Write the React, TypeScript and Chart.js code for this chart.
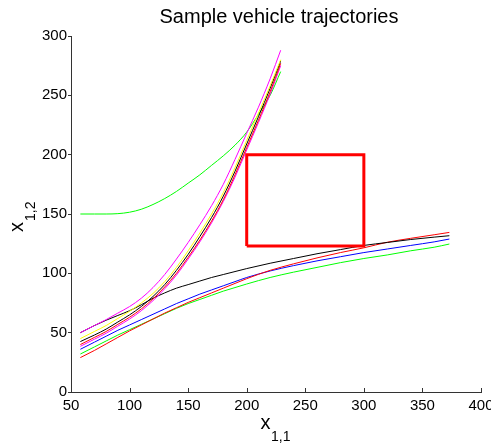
import { useEffect, useRef } from 'react';
import { Chart, registerables } from 'chart.js';

Chart.register(...registerables);

const TITLE = 'Sample vehicle trajectories';
const X_TICKS = [50, 100, 150, 200, 250, 300, 350, 400];
const Y_TICKS = [0, 50, 100, 150, 200, 250, 300];

const upperX = [58, 70, 80, 90, 100, 110, 120, 130, 140, 150, 160, 170, 180, 190, 200, 210, 220, 229];
const magentaUp1 = [50, 56, 61, 66.5, 72, 79, 88, 99, 112, 126, 141, 157, 175, 196, 218, 240, 264, 288];
const yellowUp = [45, 51, 56, 62, 68, 75, 83, 93, 105, 119, 134, 150, 168, 189, 212, 235, 258, 280];
const blackUp = [42.5, 48, 53, 59, 65, 72, 80.5, 90.5, 102.5, 116, 131, 147, 165, 186, 209, 232, 256, 279];
const redUp = [40, 46, 51, 57, 63, 70, 78.5, 88.5, 100, 113.5, 128, 144, 162, 183, 206, 229, 253, 277];
const magentaUp2 = [38.5, 44.5, 49.5, 55.5, 61.5, 68.5, 77, 87, 98.5, 112, 126.5, 142.5, 160.5, 181, 204, 227, 251, 275];
const greenUp = [150, 150, 150, 150.3, 151.5, 154, 158, 163, 169, 176, 183, 191, 199, 208, 219, 234, 250, 270];

const lowerX = [58, 70, 80, 90, 100, 110, 120, 130, 140, 150, 160, 170, 180, 190, 200, 220, 240, 260, 280, 300, 320, 340, 360, 373];
const blackLow = [50, 56, 60.5, 64.5, 68.5, 73.5, 79, 83.5, 87.5, 90.5, 93.5, 96.5, 99, 101.5, 104, 108.5, 112.5, 116.5, 120, 123.5, 126, 128.5, 130.5, 131.7];
const blueLow = [36, 42, 47, 52, 56.5, 61, 65.5, 70, 74.5, 78.5, 82.5, 86, 89.5, 93, 96.5, 102, 106.5, 110.5, 114, 117.5, 120.5, 123.5, 126.5, 128.9];
const greenLow = [32, 38, 43, 48, 52.5, 57, 61.5, 66, 70.5, 74.5, 78, 81.5, 85, 88, 91, 96.5, 101, 105, 109, 112.5, 115.5, 119, 122, 124.7];
const redLow = [29, 35, 40.5, 46, 51.5, 56.5, 61.5, 66.5, 71, 75.5, 79.5, 83.5, 87.5, 91.5, 95.5, 102.5, 108, 113, 117.5, 121.5, 126.2, 129.5, 132.5, 134.5];

const rectX = [200, 300, 300, 200, 200];
const rectY = [123, 123, 200, 200, 123];

const FONT = '"Liberation Sans", Arial, Helvetica, sans-serif';

function pts(xs: number[], ys: number[]) {
  return xs.map((x, i) => ({ x, y: ys[i] }));
}

function line(xs: number[], ys: number[], color: string, width = 1) {
  return {
    data: pts(xs, ys),
    borderColor: color,
    backgroundColor: color,
    borderWidth: width,
    pointRadius: 0,
    showLine: true,
    fill: false,
    cubicInterpolationMode: 'monotone' as const,
  };
}

const decorPlugin = {
  id: 'decor',
  afterDraw(chart: any) {
    const ctx = chart.ctx;
    const xs = chart.scales.x;
    const area = chart.chartArea;
    ctx.save();
    // inward x ticks
    ctx.strokeStyle = '#333';
    ctx.lineWidth = 1;
    ctx.beginPath();
    X_TICKS.forEach((v) => {
      const px = Math.round(xs.getPixelForValue(v)) + 0.5;
      ctx.moveTo(px, area.bottom);
      ctx.lineTo(px, area.bottom - 4);
    });
    ctx.stroke();
    ctx.fillStyle = '#000';
    // title
    ctx.font = `20px ${FONT}`;
    ctx.textAlign = 'center';
    ctx.textBaseline = 'alphabetic';
    ctx.fillText(TITLE, 279, 23);
    // x label
    ctx.textAlign = 'left';
    ctx.font = `20px ${FONT}`;
    ctx.fillText('x', 260.5, 429);
    ctx.font = `14px ${FONT}`;
    ctx.fillText('1,1', 271, 441);
    // y label
    ctx.translate(23, 232);
    ctx.rotate(-Math.PI / 2);
    ctx.font = `20px ${FONT}`;
    ctx.fillText('x', 0, 0);
    ctx.font = `14px ${FONT}`;
    ctx.fillText('1,2', 11, 12);
    ctx.restore();
  },
};

export default function App() {
  const ref = useRef<HTMLCanvasElement | null>(null);
  useEffect(() => {
    document.body.style.margin = '0';
    const canvas = ref.current!;
    const chart = new Chart(canvas, {
      type: 'scatter',
      data: {
        datasets: [
          line(rectX, rectY, '#ff0000', 3),
          line(upperX, magentaUp1, '#ff00ff'),
          line(upperX, yellowUp, '#ffff00'),
          line(upperX, blackUp, '#000000'),
          line(upperX, redUp, '#ff0000'),
          line(upperX, magentaUp2, '#ff00ff'),
          line(upperX, greenUp, '#00ff00'),
          line(lowerX, blackLow, '#000000'),
          line(lowerX, redLow, '#ff0000'),
          line(lowerX, blueLow, '#0000ff'),
          line(lowerX, greenLow, '#00ff00'),
        ].map((d, i) => (i === 0 ? { ...d, cubicInterpolationMode: 'default' as const, tension: 0 } : d)) as any,
      },
      options: {
        responsive: false,
        animation: false,
        devicePixelRatio: 1,
        layout: { padding: { top: 36, right: 10, left: 0, bottom: 0 } },
        plugins: {
          legend: { display: false },
          tooltip: { enabled: false },
          title: { display: false },
        },
        scales: {
          x: {
            type: 'linear',
            min: 50,
            max: 400,
            afterBuildTicks: (s: any) => {
              s.ticks = X_TICKS.map((v) => ({ value: v }));
            },
            ticks: { color: '#000', font: { family: FONT, size: 15 }, padding: 5, maxRotation: 0, autoSkip: false },
            grid: { drawOnChartArea: false, drawTicks: false },
            border: { color: '#333', width: 1 },
            afterFit: (s: any) => {
              s.height = 53;
              s.paddingLeft = 0;
              s.paddingRight = 0;
            },
          },
          y: {
            type: 'linear',
            min: 0,
            max: 300,
            afterBuildTicks: (s: any) => {
              s.ticks = Y_TICKS.map((v) => ({ value: v }));
            },
            ticks: { color: '#000', font: { family: FONT, size: 15 }, padding: 1, autoSkip: false },
            grid: { drawOnChartArea: false, drawTicks: true, tickLength: 3, color: '#333' },
            border: { color: '#333', width: 1 },
            afterFit: (s: any) => {
              s.width = 71;
              s.paddingTop = 0;
              s.paddingBottom = 0;
            },
          },
        },
      } as any,
      plugins: [decorPlugin],
    });
    return () => chart.destroy();
  }, []);
  return (
    <div style={{ width: 491, height: 445 }}>
      <canvas ref={ref} width={491} height={445} style={{ display: 'block' }} />
    </div>
  );
}
